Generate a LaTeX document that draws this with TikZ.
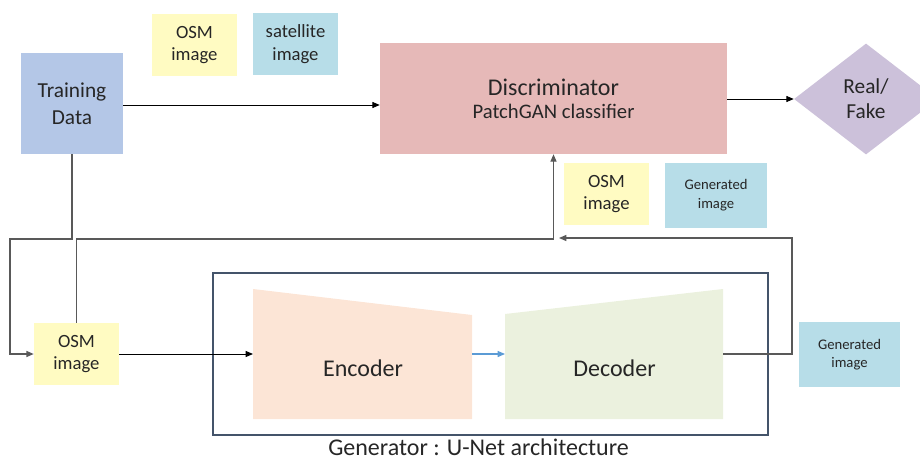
\documentclass[tikz,border=0pt]{standalone}
\usepackage{fontspec}
\setmainfont{Carlito}
\usetikzlibrary{arrows.meta}
\usetikzlibrary{shapes.geometric}

\definecolor{txt}{HTML}{262626}
\definecolor{datablue}{HTML}{B4C7E7}
\definecolor{osmyellow}{HTML}{FFFBC2}
\definecolor{satblue}{HTML}{B7DDE8}
\definecolor{discpink}{HTML}{E6B9B8}
\definecolor{rflilac}{HTML}{CCC1DA}
\definecolor{encpeach}{HTML}{FCE5D6}
\definecolor{decgreen}{HTML}{EBF1DE}
\definecolor{framegray}{HTML}{44546A}
\definecolor{linegray}{HTML}{595959}
\definecolor{arrowblue}{HTML}{5B9BD5}

\begin{document}
\begin{tikzpicture}[x=0.75pt,y=-0.75pt,
  >={Triangle[length=5.5pt,width=4.5pt]},
  box/.style={inner sep=0pt,align=center,text=txt},
  databox/.style={box,fill=datablue,minimum width=76.5pt,minimum height=75.75pt,font=\fontsize{16}{20}\selectfont},
  osmbox/.style={box,fill=osmyellow,minimum width=63.75pt,minimum height=46.5pt,font=\fontsize{14}{17}\selectfont},
  satbox/.style={box,fill=satblue,minimum width=63.75pt,minimum height=46.5pt,font=\fontsize{14}{17}\selectfont},
  genbox/.style={box,fill=satblue,minimum width=76pt,minimum height=48.75pt,font=\fontsize{11}{14}\selectfont},
  discbox/.style={box,fill=discpink,minimum width=260.25pt,minimum height=83.25pt},
  rfbox/.style={box,shape=diamond,fill=rflilac,minimum width=108pt,minimum height=83.25pt,font=\fontsize{16}{19}\selectfont},
  big/.style={text=txt,font=\fontsize{18}{22}\selectfont},
  link/.style={draw=linegray,line width=0.9pt},
  blacklink/.style={draw=black,line width=0.7pt}
]
\useasboundingbox (0,0) rectangle (920,460);

\node[databox] (train) at (72,103.5) {Training\\Data};
\node[osmbox] (osmtop) at (194.5,45) {OSM\\image};
\node[satbox] (sat) at (295.5,44) {satellite\\image};
\node[discbox] (disc) at (553.5,98.5) {{\fontsize{18}{21}\selectfont Discriminator}\\[5pt]{\fontsize{15.5}{19}\selectfont PatchGAN classifier}};
\node[rfbox] (rf) at (866,99) {Real/\\Fake};
\node[osmbox] (osmmid) at (606.5,194) {OSM\\image};
\node[genbox] (genmid) at (716,195.5) {Generated\\image};
\node[osmbox] (osmbot) at (76.5,354) {OSM\\image};
\node[genbox] (genbot) at (849.5,354.5) {Generated\\image};

\draw[framegray,line width=0.8pt] (213,273) rectangle (768,435);
\node[big] (unet) at (478.5,447) {Generator : U-Net architecture};

\fill[encpeach] (253,289) -- (472,315) -- (472,419) -- (253,419) -- cycle;
\fill[decgreen] (505,314) -- (723,289) -- (723,419) -- (505,419) -- cycle;
\node[big] (enc) at (363,368) {Encoder};
\node[big] (dec) at (614.5,368) {Decoder};

\coordinate (encin) at (253,354);
\coordinate (encout) at (472,354);
\coordinate (decin) at (505,354);
\coordinate (decout) at (723,354);
\coordinate (lt) at (10,239);
\coordinate (rt) at (792,238);
\coordinate (fb) at (559,238);

\draw[blacklink,->] (train.east |- 0,105) -- (disc.west |- 0,105);
\draw[blacklink,->] (disc.east |- 0,99) -- (rf.west);
\draw[link,->] (train.south) |- (lt) |- (osmbot.west);
\draw[link,->] (osmbot.north) |- (disc.south |- lt) -- (disc.south);
\draw[link,->] (decout) -| (rt) -- (fb);
\draw[blacklink,->] (osmbot.east) -- (encin);
\draw[arrowblue,line width=0.8pt,->] (encout) -- (decin);
\end{tikzpicture}
\end{document}
